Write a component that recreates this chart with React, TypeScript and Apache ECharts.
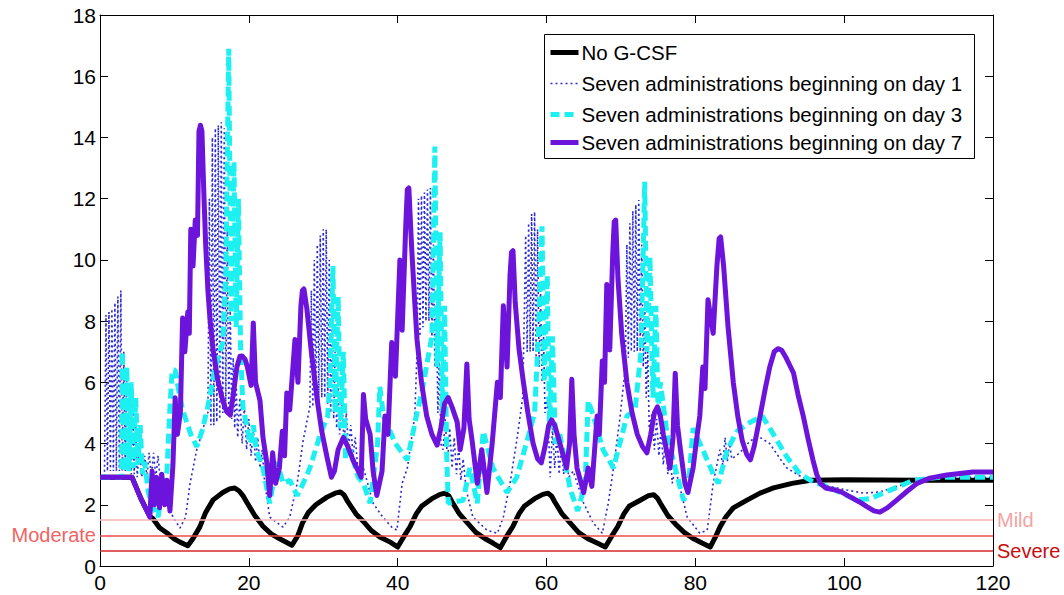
import React, { useEffect, useRef } from "react";
import * as echarts from "echarts";

const FONT = '"Liberation Sans", Arial, Helvetica, sans-serif';

const seriesNames = [
  "No G-CSF",
  "Seven administrations beginning on day 1",
  "Seven administrations beginning on day 3",
  "Seven administrations beginning on day 7",
];

const xTicks = [0, 20, 40, 60, 80, 100, 120];
const yTicks = [0, 2, 4, 6, 8, 10, 12, 14, 16, 18];

const thresholdValues = [1.5, 1.0, 0.5];
const thresholdLabels = ["Mild", "Moderate", "Severe"];

// No G-CSF
const noGcsf: number[][] = [
  [0, 2.9], [4.3, 2.9], [5.5, 2.2], [6.7, 1.62], [7.1, 1.55], [8, 1.25], [9, 1.08], [10, 0.88], [10.75, 0.78], [11.8, 0.66],
  [12.5, 0.9], [13.4, 1.27], [14.2, 1.75], [15.2, 2.16], [16.5, 2.4], [17.4, 2.52], [18.1, 2.55], [18.7, 2.45], [19.2, 2.3], [19.8, 2.05], [20.8, 1.65],
  [21.9, 1.3], [23, 1.05], [24.2, 0.88], [25.8, 0.68], [26.6, 1.0], [27.2, 1.4], [28, 1.75], [29, 2.0], [30.5, 2.25], [31.6, 2.38], [32.3, 2.42],
  [32.8, 2.32], [33.3, 2.1], [34.4, 1.7], [35.4, 1.45], [36.5, 1.15], [37.6, 0.95], [39, 0.78], [40, 0.62], [40.8, 0.95], [41.7, 1.3], [42.5, 1.7],
  [43.2, 1.95], [44.6, 2.2], [45.7, 2.34], [46.4, 2.38], [46.9, 2.28], [47.3, 2.1], [48.3, 1.7], [49.4, 1.4], [50.5, 1.1], [51.7, 0.9], [52.8, 0.75], [53.8, 0.6],
  [54.6, 0.95], [55.5, 1.3], [56.3, 1.7], [57, 1.95], [58.4, 2.2], [59.5, 2.34], [60.2, 2.38], [60.7, 2.28], [61.1, 2.1], [62.1, 1.7], [63.2, 1.4], [64.3, 1.1],
  [65.5, 0.9], [66.8, 0.75], [67.9, 0.62], [68.7, 0.95], [69.6, 1.3], [70.4, 1.7], [71.1, 1.95], [72.6, 2.15], [73.7, 2.3], [74.4, 2.33],
  [74.9, 2.22], [75.3, 2.05], [76.3, 1.65], [77.4, 1.35], [78.5, 1.1], [79.7, 0.9], [80.9, 0.75], [82, 0.62], [82.7, 0.95], [83.3, 1.27],
  [84.1, 1.6], [85.1, 1.9], [87, 2.16], [88.7, 2.38], [90.5, 2.55], [93, 2.7], [95.5, 2.8], [100, 2.82], [110, 2.8], [120, 2.8],
];

// Seven administrations beginning on day 1
const day1: number[][] = [
  [0, 2.9], [0.6, 2.9], [0.8, 8.2], [1.0, 3.1], [1.2, 8.3], [1.4, 3.1], [1.6, 8.4], [1.8, 3.1], [2.0, 8.6], [2.2, 3.1], [2.4, 8.8],
  [2.6, 3.1], [2.8, 9.0], [3.0, 3.1], [3.2, 7.0], [3.4, 3.1], [3.6, 6.3], [3.8, 3.1], [4.0, 5.8], [4.2, 3.0], [4.4, 5.2], [4.6, 3.0],
  [4.8, 4.6], [5.0, 2.9], [5.3, 4.0], [5.6, 2.9], [6.0, 3.6], [6.3, 2.9], [6.6, 3.7], [6.9, 2.9], [7.2, 3.7], [7.5, 2.9], [7.8, 3.6],
  [8.1, 2.8], [8.4, 3.0], [9.0, 2.2], [9.8, 1.6], [10.75, 1.24], [11.5, 1.6], [12.1, 2.7], [13.0, 3.8], [13.8, 4.4], [14.3, 5.0],
  [14.5, 5.0], [14.7, 12.0], [14.9, 4.6], [15.1, 14.0], [15.3, 4.6], [15.5, 14.3], [15.7, 4.7], [15.9, 14.4], [16.1, 4.8],
  [16.3, 14.5], [16.5, 5.0], [16.7, 14.3], [16.9, 5.2], [17.1, 11.0], [17.3, 5.0], [17.5, 8.5], [17.7, 4.8], [17.9, 6.8], [18.1, 4.5],
  [18.3, 6.0], [18.5, 4.2], [18.8, 5.5], [19.1, 4.0], [19.4, 5.2], [19.7, 3.8], [20.0, 4.8], [20.3, 3.6], [20.6, 4.5], [20.9, 3.4],
  [21.2, 4.2], [21.5, 3.2], [21.8, 3.8], [22.1, 2.8], [22.8, 1.6], [24.6, 1.27], [25.5, 1.6], [26.5, 2.7], [27.3, 4.1], [28.2, 5.2],
  [28.4, 9.0], [28.6, 5.2], [28.8, 10.0], [29.0, 5.3], [29.2, 10.5], [29.4, 5.4], [29.6, 10.8], [29.8, 5.5], [30.0, 11.0], [30.2, 5.5],
  [30.4, 11.0], [30.6, 5.3], [30.8, 10.0], [31.0, 5.0], [31.2, 8.5], [31.4, 4.8], [31.6, 7.0], [31.8, 4.5], [32.0, 6.0], [32.2, 4.3],
  [32.5, 5.5], [32.8, 4.0], [33.1, 5.0], [33.4, 3.8], [33.7, 4.6], [34.0, 3.6], [34.3, 4.2], [34.6, 3.3], [35.4, 3.2], [36.7, 2.05],
  [38.0, 1.6], [39.2, 1.27], [39.9, 1.17], [40.6, 2.7], [41.3, 3.2], [42.3, 4.9], [42.6, 7.0], [42.8, 12.0], [43.0, 7.5], [43.2, 12.1],
  [43.4, 7.8], [43.6, 12.2], [43.8, 8.0], [44.0, 12.3], [44.2, 8.0], [44.4, 12.35], [44.6, 7.5], [44.8, 10.5], [45.0, 6.5], [45.2, 8.5],
  [45.4, 5.0], [45.6, 7.0], [45.8, 4.0], [46.1, 3.8], [46.4, 4.8], [46.7, 3.4], [47.0, 4.5], [47.3, 3.2], [47.6, 4.2], [47.9, 3.0],
  [48.2, 3.9], [48.5, 2.8], [48.8, 3.5], [49.2, 2.5], [50.1, 1.6], [52.0, 1.17], [53.4, 1.07], [54.2, 1.6], [55.1, 2.7], [56.0, 4.1],
  [56.8, 5.5], [57.0, 8.0], [57.2, 10.8], [57.4, 7.0], [57.6, 11.2], [57.8, 7.0], [58.0, 11.5], [58.2, 7.0], [58.4, 11.57], [58.6, 6.8],
  [58.8, 11.0], [59.0, 6.5], [59.2, 9.0], [59.4, 6.0], [59.6, 7.5], [59.8, 5.0], [60.1, 5.5], [60.5, 2.9], [60.8, 4.5], [61.1, 3.2],
  [61.4, 4.3], [61.7, 3.0], [62.0, 4.0], [62.3, 3.0], [62.6, 3.6], [63.0, 2.9], [63.6, 3.1], [65.0, 2.05], [66.3, 1.4], [67.5, 1.07],
  [68.3, 2.05], [69.0, 3.2], [69.9, 4.9], [70.6, 6.5], [70.8, 10.5], [71.0, 6.8], [71.2, 11.2], [71.4, 7.0], [71.6, 11.6], [71.8, 7.0],
  [72.0, 11.8], [72.2, 7.0], [72.4, 11.96], [72.6, 7.0], [72.8, 10.5], [73.0, 6.5], [73.2, 8.5], [73.4, 5.5], [73.6, 7.0], [73.8, 4.5],
  [74.2, 5.0], [74.5, 3.8], [74.8, 4.8], [75.1, 3.6], [75.4, 4.5], [75.7, 3.3], [76.0, 4.2], [76.3, 3.0], [76.6, 3.8], [76.9, 2.7],
  [77.3, 3.2], [78.9, 1.6], [80.6, 1.07], [81.6, 1.17], [82.4, 2.7], [83.3, 3.8], [83.7, 3.3], [84.0, 4.2], [84.3, 3.4], [84.6, 4.0],
  [84.9, 3.5], [86.0, 3.7], [87.4, 4.1], [88.7, 4.2], [90.0, 4.0], [91.4, 3.5], [92.3, 3.2], [94.0, 2.95], [95.8, 2.75], [98.0, 2.6],
  [100.4, 2.48], [102.6, 2.38], [104.8, 2.42], [107.1, 2.6], [110.2, 2.8], [114.0, 2.9], [120.0, 2.9],
];

// Seven administrations beginning on day 3
const day3: number[][] = [
  [0, 2.9], [2.9, 2.9], [3.0, 7.0], [3.3, 3.1], [3.6, 6.5], [3.9, 3.1], [4.2, 6.0], [4.5, 3.2], [4.8, 5.5], [5.1, 3.3], [5.4, 4.6],
  [5.7, 3.0], [6.0, 3.4], [6.5, 2.4], [7.0, 2.0], [7.8, 1.6], [8.3, 2.4], [9.0, 3.1], [9.4, 5.2], [9.7, 6.4], [10.1, 6.4], [10.6, 5.7], [11.1, 5.1], [12.2, 4.3],
  [13.0, 3.9], [13.7, 4.4], [14.4, 5.1], [15.5, 6.5], [16.5, 7.3], [16.9, 9.5], [17.3, 16.9], [17.6, 8.0], [18.0, 13.2], [18.3, 7.8],
  [18.6, 12.0], [18.9, 7.0], [19.2, 5.2], [20.2, 4.0], [20.6, 4.6], [21.0, 3.8], [21.9, 3.2], [22.8, 2.05], [23.8, 3.4], [24.6, 2.7],
  [25.5, 2.8], [26.5, 2.3], [27.3, 2.7], [28.2, 3.2], [29.6, 4.3], [30.6, 4.9], [30.9, 6.0], [31.3, 9.8], [31.6, 5.0], [32.0, 8.8],
  [32.3, 4.5], [32.7, 7.0], [33.0, 3.5], [33.6, 3.8], [34.7, 2.9], [35.4, 2.7], [36.3, 2.05], [37.3, 4.0], [37.6, 5.85], [38.1, 4.9],
  [39.7, 4.0], [41.3, 3.46], [42.6, 5.0], [43.3, 5.75], [44.6, 7.5], [45.0, 13.7], [45.3, 6.5], [45.7, 10.9], [46.0, 5.0], [46.3, 8.5],
  [46.6, 3.5], [46.8, 2.05], [48.8, 2.15], [49.7, 3.2], [50.7, 2.05], [51.5, 4.4], [52.8, 3.2], [54.7, 2.4], [56.0, 2.9], [57.4, 4.1],
  [58.4, 5.0], [58.9, 7.5], [59.4, 11.1], [59.7, 6.0], [60.1, 9.5], [60.4, 4.5], [60.8, 7.5], [61.2, 4.0], [61.8, 4.3], [63.2, 2.5],
  [64.2, 1.8], [65.2, 2.7], [65.6, 5.4], [66.3, 4.9], [67.6, 3.8], [69.0, 3.2], [70.8, 4.9], [71.9, 5.1], [72.7, 7.0], [73.2, 12.55],
  [73.5, 7.0], [73.9, 10.1], [74.3, 5.5], [74.7, 8.5], [75.0, 5.0], [75.3, 6.0], [76.2, 4.3], [77.3, 3.2], [78.4, 2.15], [79.0, 2.4],
  [79.7, 4.5], [81.0, 3.8], [82.4, 3.0], [83.1, 2.7], [84.3, 3.8], [85.6, 4.4], [87.4, 4.7], [89.0, 4.9], [90.5, 4.3], [92.3, 3.56],
  [94.1, 3.0], [95.8, 2.75], [97.7, 2.6], [99.5, 2.4], [101.7, 2.16], [103.5, 2.2], [106.2, 2.48], [109.3, 2.8], [112.9, 2.9],
  [116.5, 2.9], [120.0, 2.9],
];

// Seven administrations beginning on day 7
const day7: number[][] = [
  [0, 2.9], [4.3, 2.9], [5.5, 2.2], [6.7, 1.6], [7.0, 3.1], [7.3, 2.0], [7.6, 2.9], [8.0, 1.9], [8.3, 3.0], [8.7, 2.0], [9.0, 2.8],
  [9.4, 1.8], [9.8, 3.3], [10.1, 5.5], [10.4, 4.3], [10.8, 5.0], [11.1, 8.1], [11.4, 7.0], [11.8, 8.3], [12.0, 7.6], [12.2, 11.0],
  [12.5, 9.8], [12.8, 11.3], [13.1, 10.8], [13.3, 14.2], [13.5, 14.4], [13.7, 14.2], [13.95, 12.2], [14.2, 10.5], [14.5, 9.0], [14.8, 8.0],
  [15.2, 7.06], [15.8, 6.1], [16.5, 5.4], [17.0, 5.05], [17.5, 4.93], [17.9, 5.6], [18.4, 6.5], [18.8, 6.85], [19.1, 6.86], [19.5, 6.75],
  [19.8, 6.5], [20.3, 5.9], [20.6, 7.94], [20.9, 6.0], [21.5, 5.4], [21.9, 4.2],
  [22.4, 3.4], [22.8, 2.3], [23.2, 3.7], [23.6, 2.7], [24.1, 3.2], [24.5, 4.4], [24.8, 3.6], [25.1, 5.65], [25.5, 5.1], [26.2, 7.4],
  [26.6, 6.0], [27.0, 8.5], [27.2, 9.0], [27.4, 9.05], [27.8, 8.4], [28.4, 7.0], [29.2, 5.4], [29.8, 4.4], [30.5, 3.56], [31.1, 2.9],
  [31.5, 3.1], [32.0, 3.8], [32.7, 4.2], [33.3, 3.9], [34.0, 3.46], [35.1, 2.9], [35.4, 5.6], [35.7, 4.8], [36.3, 4.3], [36.7, 3.1],
  [37.2, 2.3], [37.9, 3.1], [38.3, 4.9], [38.7, 4.3], [39.2, 7.3], [39.7, 6.2], [40.3, 10.0], [40.6, 7.7], [41.1, 11.2], [41.3, 12.3],
  [41.5, 12.35], [41.9, 10.3], [42.3, 8.6], [42.6, 7.4], [43.2, 6.0], [43.9, 4.9], [44.6, 4.3], [45.3, 3.95], [45.8, 4.5], [46.3, 5.3],
  [46.8, 5.5], [47.3, 5.2], [48.0, 4.7], [48.4, 3.8], [48.9, 4.5], [49.3, 6.6], [49.6, 4.8], [50.0, 4.1],
  [50.7, 2.7], [51.3, 3.8], [52.0, 2.4], [52.7, 4.0], [53.4, 6.0], [53.8, 5.5], [54.2, 8.5], [54.7, 6.5], [55.1, 9.5], [55.3, 10.25],
  [55.5, 10.3], [55.8, 8.6], [56.3, 7.1], [56.9, 6.0], [57.5, 5.0], [58.2, 4.0], [58.8, 3.5], [59.3, 3.37], [59.8, 3.9], [60.3, 4.6],
  [60.7, 4.77], [61.1, 4.6], [61.8, 4.0], [62.7, 3.2], [63.1, 4.0],
  [63.4, 6.1], [63.7, 4.3], [64.1, 3.2], [65.0, 2.4], [65.6, 3.2], [66.1, 2.6], [66.8, 4.9], [67.1, 4.3], [67.5, 6.7], [67.8, 6.0],
  [68.1, 9.2], [68.5, 7.06], [68.9, 10.2], [69.1, 11.25], [69.3, 11.3], [69.6, 9.4], [70.1, 7.6], [70.8, 6.0], [71.5, 5.0], [72.2, 4.3],
  [72.9, 3.9], [73.5, 3.7], [74.0, 4.3], [74.5, 5.0], [74.9, 5.2], [75.3, 4.9],
  [75.7, 4.3], [76.6, 3.2], [77.0, 4.2], [77.3, 6.3], [77.6, 4.6], [78.0, 3.8], [78.6, 2.7], [79.0, 2.4], [79.7, 3.2], [80.2, 4.2],
  [80.6, 4.9], [81.0, 6.5], [81.3, 5.8], [81.7, 8.7], [82.4, 7.6], [82.9, 9.8], [83.2, 10.7], [83.4, 10.75], [83.8, 9.8], [84.4, 7.8],
  [85.1, 6.0], [85.7, 4.9], [86.3, 4.1], [86.9, 3.65], [87.4, 3.47], [87.9, 3.9], [88.7, 4.9], [89.4, 5.8], [90.0, 6.5], [90.6, 7.0],
  [91.1, 7.1], [91.6, 7.05], [92.2, 6.8], [92.8, 6.5], [93.2, 6.3], [93.8, 5.6], [94.5, 4.9], [95.2, 4.1], [95.8, 3.47], [96.3, 3.0],
  [96.8, 2.7], [97.5, 2.55], [98.5, 2.5], [99.6, 2.42], [100.8, 2.26], [102.0, 2.1], [103.1, 1.93], [104.0, 1.8], [104.8, 1.76],
  [105.8, 1.9], [107.1, 2.16], [108.5, 2.45], [109.8, 2.7], [111.5, 2.87], [113.8, 2.97], [117.3, 3.07], [120.0, 3.07],
];

const seriesColors = ["#000000", "#2a2ad0", "#1cf0f0", "#6d14dc"];
const thresholdColors = ["#f7b3b3", "#ee4a4a", "#d42a2a"];
const thresholdLabelColors = ["#f5a3a3", "#f06464", "#c80d0d"];

export default function App() {
  const ref = useRef<HTMLDivElement>(null);

  useEffect(() => {
    if (!ref.current) return;
    const chart = echarts.init(ref.current, undefined, { renderer: "svg" });

    const lineBase = { type: "line", showSymbol: false, symbol: "none", silent: true };

    const lineStyles: any[] = [
      { stroke: seriesColors[0], lineWidth: 5 },
      { stroke: seriesColors[1], lineWidth: 1.6, lineDash: [2, 3] },
      { stroke: seriesColors[2], lineWidth: 5, lineDash: [9, 5] },
      { stroke: seriesColors[3], lineWidth: 5 },
    ];
    const legendY = [52, 83, 114, 142];

    const legendGraphic = {
      type: "group",
      left: 544,
      top: 34,
      z: 100,
      children: [
        {
          type: "rect",
          shape: { x: 0, y: 0, width: 430, height: 124 },
          style: { fill: "#fff", stroke: "#000", lineWidth: 1 },
        },
        ...seriesNames.map((name, i) => ({
          type: "line",
          shape: { x1: 6, y1: legendY[i] - 34, x2: 34, y2: legendY[i] - 34 },
          style: { ...lineStyles[i], fill: null },
        })),
        ...seriesNames.map((name, i) => ({
          type: "text",
          x: 37,
          y: legendY[i] - 34,
          style: {
            text: name,
            fontFamily: FONT,
            fontSize: 20.5,
            fill: "#000",
            textVerticalAlign: "middle",
            verticalAlign: "middle",
          },
        })),
      ],
    };

    const option: any = {
      animation: false,
      backgroundColor: "#ffffff",
      grid: { left: 100, right: 71, top: 15, bottom: 29, containLabel: false },
      legend: { show: false },
      graphic: [legendGraphic],
      xAxis: [
        {
          type: "value",
          min: xTicks[0],
          max: xTicks[xTicks.length - 1],
          interval: 20,
          position: "bottom",
          axisLine: { show: true, lineStyle: { color: "#000", width: 1 } },
          axisTick: { show: true, inside: true, length: 8, lineStyle: { color: "#000" } },
          axisLabel: { show: true, fontFamily: FONT, fontSize: 21, color: "#000", margin: 6, showMinLabel: true, showMaxLabel: true },
          splitLine: { show: false },
        },
        {
          type: "value",
          min: xTicks[0],
          max: xTicks[xTicks.length - 1],
          interval: 20,
          position: "top",
          axisLine: { show: true, onZero: false, lineStyle: { color: "#000", width: 1 } },
          axisTick: { show: true, inside: true, length: 8, lineStyle: { color: "#000" } },
          axisLabel: { show: false },
          splitLine: { show: false },
        },
      ],
      yAxis: [
        {
          type: "value",
          min: yTicks[0],
          max: yTicks[yTicks.length - 1],
          interval: 2,
          position: "left",
          axisLine: { show: true, onZero: false, lineStyle: { color: "#000", width: 1 } },
          axisTick: { show: true, inside: true, length: 8, lineStyle: { color: "#000" } },
          axisLabel: { show: true, fontFamily: FONT, fontSize: 21, color: "#000", margin: 4, showMinLabel: true, showMaxLabel: true },
          splitLine: { show: false },
        },
        {
          type: "value",
          min: yTicks[0],
          max: yTicks[yTicks.length - 1],
          interval: 2,
          position: "right",
          axisLine: { show: true, onZero: false, lineStyle: { color: "#000", width: 1 } },
          axisTick: { show: true, inside: true, length: 8, lineStyle: { color: "#000" } },
          axisLabel: { show: false },
          splitLine: { show: false },
        },
      ],
      series: [
        {
          ...lineBase,
          name: "thresholds",
          data: [],
          z: 1,
          markLine: {
            silent: true,
            symbol: ["none", "none"],
            animation: false,
            data: thresholdValues.map((v, i) => ({
              yAxis: v,
              lineStyle: { color: thresholdColors[i], width: 1.5, type: "solid" },
              label: {
                show: true,
                position: thresholdLabels[i] === "Moderate" ? "start" : "end",
                distance: 4,
                formatter: thresholdLabels[i],
                fontFamily: FONT,
                fontSize: 20,
                color: thresholdLabelColors[i],
              },
            })),
          },
        },
        {
          ...lineBase,
          name: seriesNames[0],
          data: noGcsf,
          z: 2,
          color: seriesColors[0],
          lineStyle: { color: seriesColors[0], width: 5, join: "round" },
        },
        {
          ...lineBase,
          name: seriesNames[1],
          data: day1,
          z: 3,
          color: seriesColors[1],
          lineStyle: { color: seriesColors[1], width: 1.6, type: [2, 3], join: "bevel" },
        },
        {
          ...lineBase,
          name: seriesNames[2],
          data: day3,
          z: 4,
          color: seriesColors[2],
          lineStyle: { color: seriesColors[2], width: 5, type: [10, 5], join: "bevel" },
        },
        {
          ...lineBase,
          name: seriesNames[3],
          data: day7,
          z: 5,
          color: seriesColors[3],
          lineStyle: { color: seriesColors[3], width: 5, join: "round" },
        },
      ],
    };

    chart.setOption(option);
    return () => chart.dispose();
  }, []);

  return (
    <div
      ref={ref}
      style={{ position: "fixed", left: 0, top: 0, width: 1064, height: 595, background: "#fff" }}
    />
  );
}
